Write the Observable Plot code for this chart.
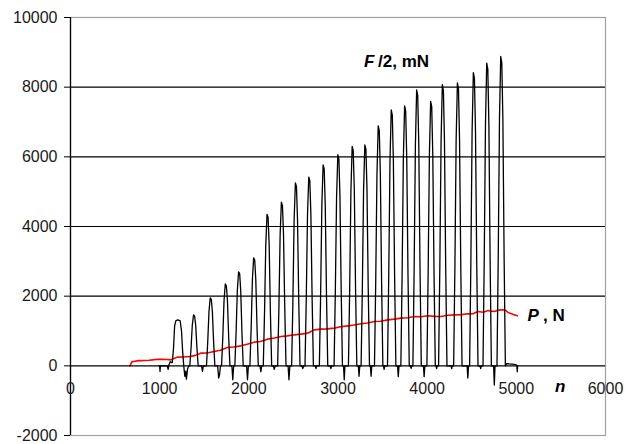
<!DOCTYPE html>
<html><head><meta charset="utf-8">
<script src="https://cdn.jsdelivr.net/npm/d3@7"></script>
<script src="https://cdn.jsdelivr.net/npm/@observablehq/plot@0.6"></script>
<style>body{margin:0;background:#fff;font-family:"Liberation Sans",Arial,sans-serif}</style>
</head><body><div id="chart"></div>
<script>
// F/2, mN  — [n, value] samples
const forceSamples = [
[990,0],[1000,0],[1004,-160],[1008,0],[1085,0],[1095,-100],[1105,40],[1120,120],[1135,90],
[1142,100],[1155,500],[1168,1150],[1182,1300],[1205,1320],[1230,1290],[1245,1000],[1258,400],[1270,0],[1282,-300],[1292,-150],[1300,-380],[1312,-100],[1325,0],
[1338,0],[1352,510],[1366,1170],[1380,1460],[1392,1430],[1404,1170],[1418,510],[1432,0],[1470,0],[1480,-160],[1490,0],
[1525,0],[1539,680],[1553,1560],[1567,1950],[1579,1910],[1591,1560],[1605,680],[1619,0],[1650,0],[1662,-350],[1672,-250],[1682,0],
[1694,0],[1708,820],[1722,1880],[1736,2350],[1748,2300],[1760,1880],[1774,820],[1788,0],[1810,0],[1820,-400],[1830,0],
[1843,0],[1857,945],[1871,2160],[1885,2700],[1897,2650],[1909,2160],[1923,945],[1937,0],[1975,0],[1985,-400],[1995,0],
[2012,0],[2026,1085],[2040,2480],[2054,3100],[2066,3040],[2078,2480],[2092,1085],[2106,0],[2125,0],[2135,-170],[2145,0],
[2162,0],[2176,1520],[2190,3480],[2204,4350],[2216,4260],[2228,3480],[2242,1520],[2256,0],[2275,0],[2285,-100],[2295,0],
[2323,0],[2337,1645],[2351,3760],[2365,4700],[2377,4600],[2389,3760],[2403,1645],[2417,0],[2440,0],[2450,-400],[2460,0],
[2480,0],[2494,1840],[2508,4200],[2522,5250],[2534,5150],[2546,4200],[2560,1840],[2574,0],[2595,0],[2605,-80],[2615,0],
[2630,0],[2644,1900],[2658,4340],[2672,5420],[2684,5310],[2696,4340],[2710,1900],[2724,0],[2745,0],[2753,-80],[2760,0],
[2791,0],[2805,2020],[2819,4620],[2833,5770],[2845,5650],[2857,4620],[2871,2020],[2885,0],[2912,0],[2920,-80],[2928,0],
[2956,0],[2970,2120],[2984,4850],[2998,6060],[3010,5940],[3022,4850],[3036,2120],[3050,0],[3062,0],[3070,-400],[3078,0],
[3117,0],[3131,2205],[3145,5040],[3159,6300],[3171,6170],[3183,5040],[3197,2205],[3211,0],[3228,0],[3236,-300],[3244,0],
[3259,0],[3273,2220],[3287,5080],[3301,6345],[3313,6220],[3325,5080],[3339,2220],[3353,0],[3363,0],[3371,-300],[3379,0],
[3409,0],[3423,2410],[3437,5510],[3451,6890],[3463,6750],[3475,5510],[3489,2410],[3503,0],[3510,0],[3517,-100],[3524,0],
[3555,0],[3569,2570],[3583,5880],[3597,7350],[3609,7200],[3621,5880],[3635,2570],[3649,0],[3668,0],[3676,-310],[3684,0],
[3705,0],[3719,2610],[3733,5970],[3747,7465],[3759,7320],[3771,5970],[3785,2610],[3799,0],[3812,0],[3820,-70],[3828,0],
[3840,0],[3854,2770],[3868,6340],[3882,7920],[3894,7760],[3906,6340],[3920,2770],[3934,0],[3958,0],[3966,-310],[3974,0],
[3997,0],[4011,2660],[4025,6070],[4039,7590],[4051,7440],[4063,6070],[4077,2660],[4091,0],[4100,0],[4106,-80],[4112,0],
[4128,0],[4142,2820],[4156,6460],[4170,8070],[4182,7910],[4194,6460],[4208,2820],[4222,0],[4268,0],[4275,-80],[4282,0],
[4297,0],[4311,2840],[4325,6500],[4339,8120],[4351,7960],[4363,6500],[4377,2840],[4391,0],[4448,0],[4456,-350],[4464,0],
[4476,0],[4490,2950],[4504,6740],[4518,8420],[4530,8250],[4542,6740],[4556,2950],[4570,0],[4592,0],[4600,-80],[4608,0],
[4626,0],[4640,3040],[4654,6950],[4668,8690],[4680,8520],[4692,6950],[4706,3040],[4720,0],[4745,0],[4753,-550],[4761,0],
[4783,0],[4797,3110],[4811,7100],[4825,8880],[4837,8700],[4849,7100],[4863,3110],[4877,0],[4890,60],[4960,50],[5000,30],[5006,0],[5010,-170],[5014,0]
];
// P, N
const loadN = [667,690,712,760,800,824,880,920,974,1020,1080,1124,1160,1199,1260,1348,1400,1461,1530,1611,1680,1760,1830,1910,1980,2060,2130,2210,2290,2360,2430,2509,2584,2659,2697,2734,2809,2880,2959,3030,3109,3180,3258,3330,3408,3480,3558,3630,3708,3780,3858,3930,4007,4080,4157,4230,4307,4380,4457,4520,4569,4630,4682,4720,4757,4800,4851,4880,4907,4960,5011];
const loadP = [0,120,125,150,150,155,160,170,190,185,180,172,210,250,255,268,300,364,370,411,450,526,540,574,620,680,700,766,800,842,860,890,910,938,985,1033,1053,1060,1082,1120,1148,1170,1206,1230,1273,1280,1320,1340,1369,1380,1416,1410,1436,1420,1416,1450,1464,1470,1493,1500,1560,1540,1588,1570,1560,1600,1608,1590,1531,1480,1436];

const xTicks = [0,1000,2000,3000,4000,5000,6000];
const yTicks = [-2000,0,2000,4000,6000,8000,10000];
const gridValues = [2000,4000,6000,8000];

// annotation texts with their anchor positions (data units)
const labels = [
  {text:"F",      n:3292, v:8728, italic:true},
  {text:"/2, mN", n:3449, v:8728, italic:false},
  {text:"P",      n:5124, v:1435, italic:true},
  {text:", N",    n:5300, v:1435, italic:false},
  {text:"n",      n:5435, v:-600, italic:true}
];

const force = forceSamples.map(([n,v]) => ({n, v}));
const load = loadN.map((n,i) => ({n, v: loadP[i]}));

const font = "'Liberation Sans', Arial, sans-serif";
const chart = Plot.plot({
  width: 634, height: 444,
  marginLeft: 70, marginRight: 29, marginTop: 17, marginBottom: 9,
  style: {fontFamily: font, fontSize: "16px", color: "#1a1a1a", background: "#fff", overflow: "visible"},
  x: {domain: [0, 6000], axis: null},
  y: {domain: [-2000, 10000], axis: null},
  marks: [
    Plot.ruleY(gridValues, {stroke: "#000", strokeWidth: 1.2}),
    Plot.frame({stroke: "#a0a0a0", strokeWidth: 1.2}),
    Plot.axisY(yTicks, {label: null, tickSize: 6, tickPadding: 7, tickFormat: d => String(d), fontSize: 16, stroke: "#000"}),
    Plot.ruleX([0], {stroke: "#000", strokeWidth: 1.3}),
    Plot.text(xTicks, {x: d => d, y: 0, dy: 23, text: d => String(d), fontSize: 16, fill: "#1a1a1a"}),
    Plot.line(load, {x: "n", y: "v", stroke: "#ff0000", strokeWidth: 1.6}),
    Plot.line(force, {x: "n", y: "v", stroke: "#000", strokeWidth: 1.3}),
    Plot.ruleY([0], {stroke: "#000", strokeWidth: 1.3}),
    Plot.text(labels.filter(d => d.italic), {x: "n", y: "v", text: "text", textAnchor: "start", fontSize: 17, fontWeight: "bold", fontStyle: "italic", fill: "#000"}),
    Plot.text(labels.filter(d => !d.italic), {x: "n", y: "v", text: "text", textAnchor: "start", fontSize: 17, fontWeight: "bold", fill: "#000"})
  ]
});
document.getElementById("chart").appendChild(chart);
</script></body></html>
